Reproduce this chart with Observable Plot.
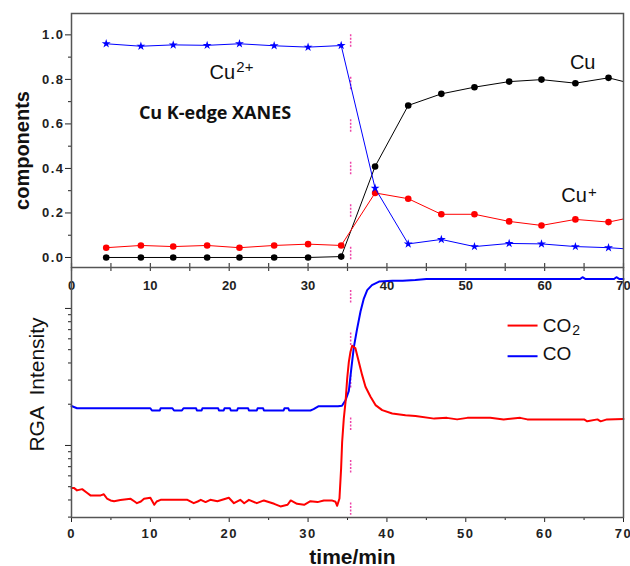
<!DOCTYPE html>
<html><head><meta charset="utf-8">
<script src="https://cdn.jsdelivr.net/npm/d3@7"></script>
<script src="https://cdn.jsdelivr.net/npm/@observablehq/plot@0.6"></script>
<style>
body{margin:0;background:#fff;}
#chart{position:relative;width:630px;height:566px;overflow:hidden;background:#fff;}
#chart svg{position:absolute;left:0;}
[aria-label$="tick label"] text{letter-spacing:1.5px;}
</style></head><body><div id="chart"></div>
<script>
// ---- XANES linear-combination components (top panel) ----
const xanesTime = [4.4, 8.8, 12.9, 17.2, 21.3, 25.7, 30.0, 34.2, 38.5, 42.7, 46.9, 51.1, 55.5, 59.6, 63.9, 68.1, 72.3];
const cu0Values = [0.0, 0.0, 0.0, 0.0, 0.0, 0.0, 0.0, 0.004, 0.409, 0.683, 0.735, 0.765, 0.790, 0.799, 0.783, 0.807, 0.77];
const cu1Values = [0.044, 0.054, 0.049, 0.054, 0.044, 0.054, 0.060, 0.054, 0.290, 0.264, 0.194, 0.194, 0.162, 0.144, 0.171, 0.159, 0.19];
const cu2Values = [0.960, 0.949, 0.955, 0.953, 0.960, 0.951, 0.945, 0.952, 0.311, 0.061, 0.081, 0.049, 0.063, 0.061, 0.049, 0.044, 0.034];

// ---- RGA signals (bottom panel) ----
const co2Time = [0, 0.3, 0.7, 1.35, 2.0, 2.4, 3.7, 4.1, 4.5, 4.95, 5.4, 6.2, 7.5, 8.0, 8.3, 8.8, 9.2, 10.0, 10.5, 10.8, 11.3, 13.0, 14.7, 15.5, 16.0, 16.4, 17.0, 17.6, 18.5, 19.95, 20.6, 21.4, 21.9, 22.5, 23.5, 24.4, 25.7, 26.5, 27.4, 27.8, 28.6, 29.5, 30.3, 31.2, 32.0, 33.0, 33.48, 33.69, 33.98, 34.19, 34.32, 34.53, 34.75, 34.96, 35.17, 35.38, 35.59, 36.01, 36.43, 36.86, 37.28, 37.92, 38.55, 39.40, 40.67, 42.35, 43.62, 46.0, 47.6, 48.9, 50.2, 53.1, 54.8, 56.9, 57.8, 65.0, 65.4, 66.7, 67.1, 67.9, 70.0];
const co2Values = [0.49, 0.49, 0.47, 0.48, 0.45, 0.432, 0.432, 0.44, 0.41, 0.397, 0.392, 0.40, 0.408, 0.39, 0.379, 0.39, 0.408, 0.415, 0.369, 0.39, 0.401, 0.401, 0.401, 0.379, 0.39, 0.401, 0.386, 0.401, 0.392, 0.415, 0.379, 0.401, 0.379, 0.401, 0.379, 0.397, 0.375, 0.359, 0.369, 0.397, 0.375, 0.369, 0.392, 0.386, 0.397, 0.397, 0.388, 0.363, 0.41, 0.68, 1.06, 1.57, 2.08, 3.08, 4.08, 4.83, 5.34, 5.11, 4.08, 3.26, 2.68, 2.27, 1.97, 1.81, 1.71, 1.66, 1.64, 1.57, 1.59, 1.55, 1.59, 1.59, 1.55, 1.59, 1.55, 1.55, 1.50, 1.55, 1.50, 1.55, 1.56];
const coTime = [0, 0.7, 10.0, 10.2, 11.2, 11.3, 12.8, 13.0, 14.0, 14.2, 15.8, 15.9, 16.5, 16.6, 18.6, 18.7, 19.3, 19.4, 20.1, 20.2, 21.0, 21.1, 22.4, 22.5, 23.5, 23.6, 24.3, 24.4, 26.9, 27.0, 27.5, 27.6, 30.3, 30.7, 31.3, 33.8, 34.3, 34.75, 35.17, 35.45, 35.8, 36.2, 36.65, 37.07, 37.5, 38.1, 39.0, 40.7, 42.0, 43.6, 45.0, 64.5, 64.8, 65.2, 68.8, 69.1, 69.5, 70.0];
const coValues = [1.94, 1.87, 1.87, 1.80, 1.80, 1.87, 1.87, 1.80, 1.80, 1.87, 1.87, 1.80, 1.80, 1.87, 1.87, 1.80, 1.80, 1.87, 1.87, 1.80, 1.80, 1.87, 1.87, 1.80, 1.80, 1.87, 1.87, 1.80, 1.80, 1.87, 1.87, 1.80, 1.80, 1.84, 1.93, 1.93, 1.95, 2.14, 2.5, 3.5, 5.2, 7.0, 9.5, 11.8, 13.6, 14.8, 15.7, 15.9, 15.9, 16.1, 16.4, 16.4, 16.9, 16.4, 16.4, 16.9, 16.4, 16.4];

// ---- ticks / labels ----
const xMajorTicks = [0, 10, 20, 30, 40, 50, 60, 70];
const xMinorTicks = [5, 15, 25, 35, 45, 55, 65];
const xAllTicks = [0, 5, 10, 15, 20, 25, 30, 35, 40, 45, 50, 55, 60, 65, 70];
const yCompMajor = [0, 0.2, 0.4, 0.6, 0.8, 1.0];
const yCompMinor = [0.1, 0.3, 0.5, 0.7, 0.9];
const yRgaMajor = [1, 10];
const yRgaMinor = [0.3, 0.4, 0.5, 0.6, 0.7, 0.8, 0.9, 2, 3, 4, 5, 6, 7, 8, 9];
const switchTime = 35.4;

// ---- annotations (data units) ----
const topNotes = [
  {text: "Cu", t: 17.5, v: 0.802, size: 20},
  {text: "2+", t: 20.9, v: 0.834, size: 15},
  {text: "Cu", t: 63.2, v: 0.847, size: 20},
  {text: "Cu", t: 62.1, v: 0.248, size: 20},
  {text: "+", t: 65.5, v: 0.272, size: 15}
];
const legendLabels = ["CO", "CO"];
const legendSubs = ["2", ""];
const legendColors = ["#ff0000", "#0000ff"];

const xanes = xanesTime.map((t, i) => ({t, cu: cu0Values[i], cu1: cu1Values[i], cu2: cu2Values[i]}));
const co2 = co2Time.map((t, i) => ({t, v: co2Values[i]}));
const co = coTime.map((t, i) => ({t, v: coValues[i]}));
const legend = legendLabels.map((label, i) => ({label, sub: legendSubs[i], color: legendColors[i],
  lineV: [7.5, 4.48][i], textV: [6.68, 4.17][i], subV: [6.35, 4.0][i]}));

const FONT = "'Liberation Sans', Arial, sans-serif";
const pink = "#ee44a8";
const dash = "2,1.5,2,1.5,2,1.5,2,30";
const baseStyle = {fontFamily: FONT, fontSize: "13px", color: "#222", background: "transparent"};

const topH = 268, topMT = 13, topMB = 1;
const topPlot = Plot.plot({
  width: 630, height: topH,
  marginLeft: 71, marginRight: 7, marginTop: topMT, marginBottom: topMB,
  x: {domain: [0, 70], axis: null},
  y: {domain: [-0.045, 1.096]},
  style: baseStyle,
  marks: [
    Plot.axisY({ticks: yCompMajor, tickSize: 6, tickPadding: 1, tickFormat: d3.format(".1f"), fontWeight: "bold", fontSize: 13, label: null}),
    Plot.axisY({ticks: yCompMinor, tickSize: 3, tickFormat: () => "", label: null}),
    Plot.tickX(xAllTicks, {x: d => d, insetTop: topH - topMT - topMB - 4, stroke: "#444", strokeWidth: 1.2}),
    Plot.ruleX([switchTime], {x: d => d, y1: 1.0, y2: -0.01, stroke: pink, strokeWidth: 1.5, strokeDasharray: dash}),
    Plot.line(xanes, {x: "t", y: "cu", stroke: "#000", strokeWidth: 1, clip: true}),
    Plot.dot(xanes, {x: "t", y: "cu", fill: "#000", r: 3.3, clip: true}),
    Plot.line(xanes, {x: "t", y: "cu1", stroke: "#ff0000", strokeWidth: 1, clip: true}),
    Plot.dot(xanes, {x: "t", y: "cu1", fill: "#ff0000", r: 3.3, clip: true}),
    Plot.line(xanes, {x: "t", y: "cu2", stroke: "#0000ff", strokeWidth: 1, clip: true}),
    Plot.dot(xanes, {x: "t", y: "cu2", fill: "#0000ff", symbol: "star", r: 2.8, clip: true}),
    Plot.text(topNotes, {x: "t", y: "v", text: "text", fontSize: d => d.size, textAnchor: "start", lineAnchor: "bottom", fill: "#111"}),
    Plot.text(["Cu K-edge XANES"], {x: () => 18.2, y: () => 0.624, text: d => d, fontFamily: "'Open Sans', sans-serif", fontWeight: "bold", fontSize: 18, lineAnchor: "bottom", fill: "#111"}),
    Plot.text(["components"], {text: d => d, frameAnchor: "left", textAnchor: "middle", rotate: -90, dx: -49, dy: 10, fontSize: 20, fontWeight: "bold", fill: "#111"}),
    Plot.frame({stroke: "#555", strokeWidth: 1.5})
  ]
});

const botH = 299, botMB = 49;
const botPlot = Plot.plot({
  width: 630, height: botH,
  marginLeft: 71, marginRight: 7, marginTop: 0, marginBottom: botMB,
  x: {domain: [0, 70]},
  y: {type: "log", domain: [0.298, 19.9]},
  style: baseStyle,
  marks: [
    Plot.axisY({ticks: yRgaMajor, tickSize: 6, tickFormat: () => "", label: null}),
    Plot.axisY({ticks: yRgaMinor, tickSize: 3, tickFormat: () => "", label: null}),
    Plot.axisX({ticks: xMajorTicks, tickSize: 5, tickPadding: 6, tickFormat: d => String(d), fontWeight: "bold", fontSize: 13, label: null}),
    Plot.axisX({ticks: xMinorTicks, tickSize: 3, tickFormat: () => "", label: null}),
    Plot.tickX(xAllTicks, {x: d => d, insetBottom: botH - botMB - 4, stroke: "#444", strokeWidth: 1.2}),
    Plot.text(xMajorTicks, {x: d => d, text: d => String(d), frameAnchor: "top", lineAnchor: "top", dy: 13, fontWeight: "bold", fontSize: 13, fill: "#222", ariaLabel: "top tick label"}),
    Plot.ruleX([switchTime], {x: d => d, y1: 13.5, y2: 0.31, stroke: pink, strokeWidth: 1.5, strokeDasharray: dash}),
    Plot.line(co, {x: "t", y: "v", stroke: "#0000ff", strokeWidth: 2}),
    Plot.line(co2, {x: "t", y: "v", stroke: "#ff0000", strokeWidth: 2}),
    Plot.link(legend, {x1: () => 55.3, x2: () => 59.1, y1: "lineV", y2: "lineV", stroke: "color", strokeWidth: 2}),
    Plot.text(legend, {x: () => 59.75, y: "textV", text: "label", fontSize: 19, textAnchor: "start", lineAnchor: "bottom", fill: "#111"}),
    Plot.text(legend, {x: () => 63.5, y: "subV", text: "sub", fontSize: 14, textAnchor: "start", lineAnchor: "bottom", fill: "#111"}),
    Plot.text(["RGA  Intensity"], {text: d => d, frameAnchor: "left", textAnchor: "middle", rotate: -90, dx: -34, dy: -8, fontSize: 21, fill: "#111"}),
    Plot.text(["time/min"], {text: d => d, frameAnchor: "bottom", lineAnchor: "bottom", dx: 5, dy: 46, fontSize: 21, fontWeight: "bold", fill: "#111"}),
    Plot.frame({stroke: "#555", strokeWidth: 1.5})
  ]
});

const chart = document.getElementById("chart");
topPlot.style.top = "0px";
botPlot.style.top = "267px";
chart.appendChild(botPlot);
chart.appendChild(topPlot);
</script></body></html>
